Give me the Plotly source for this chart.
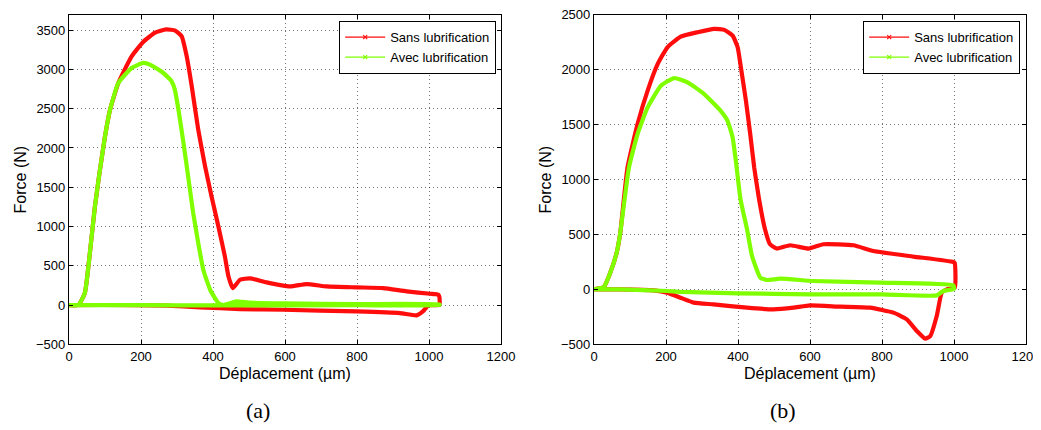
import plotly.graph_objects as go

# ---------- data (a) ----------
a_sans_x = [0, 26, 44, 58, 72, 86, 100, 114, 137, 174, 206, 239, 270, 295, 313, 327, 341, 359, 378, 396, 415, 433, 443, 455,
            475, 503, 549, 614, 660, 716, 799, 873, 938, 1003, 1026, 1029, 1029,
            1010, 998, 983, 965, 919, 799, 595, 475, 364, 271, 179, 0]
a_sans_y = [0, 0, 153, 662, 1256, 1723, 2148, 2488, 2828, 3167, 3350, 3470, 3510, 3495, 3422, 3167, 2785, 2233, 1766, 1383, 1001, 619, 364, 216,
            322, 340, 288, 237, 267, 237, 225, 216, 174, 144, 131, 100, 0,
            0, -5, -81, -132, -102, -81, -60, -51, -30, -8, 0, 0]
a_avec_x = [0, 26, 44, 58, 72, 86, 100, 114, 137, 174, 206, 225, 262, 285, 294, 304, 318, 331, 345, 359, 373, 392, 415, 429,
            445, 465, 500, 600, 800, 1029, 1029, 800, 400, 200, 0]
a_avec_y = [0, 0, 153, 662, 1256, 1723, 2148, 2488, 2828, 3019, 3083, 3062, 2955, 2849, 2743, 2488, 2064, 1638, 1172, 790, 450, 195, 25, 0,
            20, 46, 30, 20, 12, 8, 0, -2, -5, -2, 0]

# ---------- data (b) ----------
b_sans_x = [0, 27, 45, 63, 73, 93, 121, 149, 177, 204, 241, 288, 334, 362, 385, 399, 408, 422, 434, 445, 458, 475, 489, 508,
            545, 596, 637, 721, 776, 887, 998, 1002, 1002,
            980, 966, 952, 934, 920, 897, 869, 832, 767, 684, 600, 554, 498, 425, 332, 277, 240, 203, 166, 73, 0]
b_sans_y = [0, 20, 150, 333, 515, 1108, 1503, 1807, 2050, 2202, 2299, 2339, 2369, 2360, 2308, 2202, 2020, 1715, 1412, 1108, 830, 547, 410, 371,
            401, 371, 410, 401, 349, 298, 249, 240, 15,
            0, -30, -243, -425, -449, -380, -273, -212, -167, -158, -146, -167, -182, -167, -137, -121, -76, -30, -9, 0, 0]
b_avec_x = [0, 27, 45, 63, 73, 97, 121, 149, 186, 223, 260, 306, 352, 371, 385, 394, 407, 425, 439, 462, 480, 517,
            610, 795, 998, 1000,
            970, 952, 800, 600, 400, 240, 203, 73, 0]
b_avec_y = [0, 20, 150, 333, 515, 1108, 1412, 1655, 1852, 1922, 1883, 1776, 1624, 1533, 1382, 1169, 818, 547, 303, 106, 85, 97,
            76, 61, 36, 5,
            -15, -55, -46, -46, -36, -24, -15, 0, 0]

series_names = ["Sans lubrification", "Avec lubrification"]
series_colors = ["#ff0d0d", "#80ff00"]
x_ticks = [0, 200, 400, 600, 800, 1000, 1200]
a_y_ticks = [-500, 0, 500, 1000, 1500, 2000, 2500, 3000, 3500]
b_y_ticks = [-500, 0, 500, 1000, 1500, 2000, 2500]
x_title = "Déplacement (µm)"
y_title = "Force (N)"
captions = ["(a)", "(b)"]

# page body has an 8px margin: the figure sits at (8, 8) in the window
OFF = 8
FW, FH = 1041 - OFF, 430 - OFF
FONT = "Liberation Sans, Arial, sans-serif"
SERIF = "Liberation Serif, DejaVu Serif, serif"


def px(x):
    return (x - OFF) / FW


def py(y):
    return 1 - (y - OFF) / FH


fig = go.Figure()


def add_pair(xs, ys, xa, ya, legend):
    for x, y, name, col in zip(xs, ys, series_names, series_colors):
        fig.add_trace(go.Scatter(x=x, y=y, mode="lines",
                                 line=dict(color=col, width=4.2, shape="spline", smoothing=0.45),
                                 xaxis=xa, yaxis=ya, showlegend=False, name=name, hoverinfo="skip"))
    for name, col in zip(series_names, series_colors):
        fig.add_trace(go.Scatter(x=[None], y=[None], mode="lines+markers", name=name,
                                 line=dict(color=col, width=1.2),
                                 marker=dict(symbol="x-thin", size=4, color=col, line=dict(color=col, width=1.2)),
                                 xaxis=xa, yaxis=ya, legend=legend))


add_pair([a_sans_x, a_avec_x], [a_sans_y, a_avec_y], "x", "y", "legend")
add_pair([b_sans_x, b_avec_x], [b_sans_y, b_avec_y], "x2", "y2", "legend2")

ytop = py(14.5)
ybot = py(344.3)

axis_common = dict(showline=True, linecolor="black", linewidth=1.2, mirror="ticks", ticks="inside", ticklen=4,
                   tickcolor="black", showgrid=True, gridcolor="rgba(0,0,0,0.55)", griddash="1px,3px", gridwidth=1,
                   zeroline=False, automargin=False, ticklabeloverflow="allow",
                   tickfont=dict(family=FONT, size=13, color="black"))

legend_common = dict(bordercolor="black", borderwidth=1.2, bgcolor="white", xanchor="right", yanchor="top",
                     font=dict(family=FONT, size=13, color="black"), tracegroupgap=0, itemwidth=40,
                     xref="paper", yref="paper")

title_font = dict(family=FONT, size=16, color="black")
annotations = [
    dict(text=y_title, x=px(20), y=py(179.4), textangle=-90),
    dict(text=y_title, x=px(545), y=py(179.4), textangle=-90),
    dict(text=x_title, x=px(285), y=py(373)),
    dict(text=x_title, x=px(810), y=py(373)),
]
for a in annotations:
    a.update(xref="paper", yref="paper", showarrow=False, xanchor="center", yanchor="middle", font=title_font)
annotations += [
    dict(text=captions[0], x=px(258), y=py(410), xref="paper", yref="paper", showarrow=False,
         xanchor="center", yanchor="middle", font=dict(family=SERIF, size=22, color="black")),
    dict(text=captions[1], x=px(783), y=py(410), xref="paper", yref="paper", showarrow=False,
         xanchor="center", yanchor="middle", font=dict(family=SERIF, size=22, color="black")),
]

fig.update_layout(
    width=FW, height=FH, margin=dict(l=0, r=0, t=0, b=0, autoexpand=False),
    paper_bgcolor="white", plot_bgcolor="white",
    xaxis=dict(domain=[px(69), px(501)], range=[0, 1200], tickvals=x_ticks, anchor="y", **axis_common),
    yaxis=dict(domain=[ybot, ytop], range=[-500, 3700], tickvals=a_y_ticks, anchor="x", **axis_common),
    xaxis2=dict(domain=[px(594), px(1026)], range=[0, 1200], tickvals=x_ticks, anchor="y2", **axis_common),
    yaxis2=dict(domain=[ybot, ytop], range=[-500, 2500], tickvals=b_y_ticks, anchor="x2", **axis_common),
    legend=dict(x=px(496), y=py(21), **legend_common),
    legend2=dict(x=px(1020), y=py(21), **legend_common),
    annotations=annotations,
)

fig.write_html("out.html")
